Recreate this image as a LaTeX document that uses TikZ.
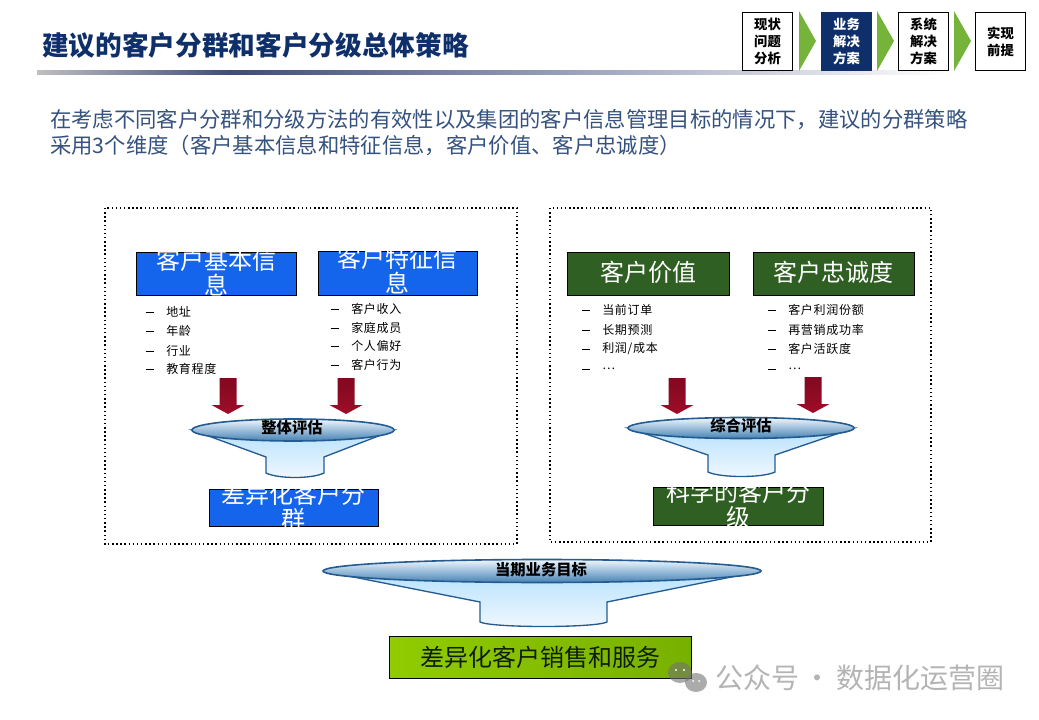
\documentclass[tikz,border=0pt]{standalone}
\usepackage{fontspec}
\setmainfont{Noto Sans CJK SC}
\usepackage[svgnames]{xcolor}
\usepackage{tikz}
\definecolor{navy}{HTML}{0F2F6B}
\definecolor{barblue}{HTML}{3F4C7A}
\definecolor{bodyblue}{HTML}{35527F}
\definecolor{segblue}{HTML}{1464EC}
\definecolor{seggreen}{HTML}{2F5F22}
\definecolor{limeleft}{HTML}{90CC00}
\definecolor{limeright}{HTML}{78B000}
\definecolor{navgreen}{HTML}{76B33A}
\definecolor{arrowred}{HTML}{A00C28}
\definecolor{funnelline}{HTML}{245C92}
\definecolor{markgray}{HTML}{B4B4B4}
\tikzset{
	navbox/.style={draw=black,line width=.8pt,fill=white,minimum width=38pt,minimum height=44pt,inner sep=0pt,align=center,font=\fontsize{10}{13}\selectfont\bfseries},
	dotbox/.style={draw=black,line width=1.1pt,dotted},
	headbox/.style={draw=black,line width=.5pt,inner sep=0pt},
	headtext/.style={text=white,inner sep=0pt,align=center,font=\fontsize{18}{18.7}\selectfont},
	itemtext/.style={anchor=west,inner sep=0pt,font=\fontsize{9}{10}\selectfont},
	funnellabel/.style={inner sep=0pt,font=\fontsize{11.5}{12}\selectfont\bfseries}
}
\begin{document}
\begin{tikzpicture}[x=.75pt,y=-.75pt]
		\useasboundingbox[fill=white] (0,0) rectangle (1039,720);
		% title and bar
		\node[anchor=west,inner sep=0pt,text=navy,font=\fontsize{20}{20}\selectfont\bfseries] (title) at (42,45) {建议的客户分群和客户分级总体策略};
		\shade[left color=gray!50,right color=barblue] (37,71) rectangle (230,75);
		\shade[left color=barblue,right color=white] (230,71) rectangle (950,75);
		% navigation
		\node[navbox] (nava) at (767.5,41.5) {现状\\问题\\分析};
		\node[navbox,fill=navy,draw=navy,text=white] (navb) at (846.5,41.5) {业务\\解决\\方案};
		\node[navbox] (navc) at (923.5,41.5) {系统\\解决\\方案};
		\node[navbox] (navd) at (1000.5,41.5) {实现\\前提};
		\foreach \x in {799,877,954}
			\fill[navgreen] (\x,11)--(\x+17,41)--(\x,71)--cycle;
		% intro text
		\node[anchor=west,inner sep=0pt,text=bodyblue,font=\fontsize{16}{19.5}\selectfont,align=left] (intro) at (50,133) {在考虑不同客户分群和分级方法的有效性以及集团的客户信息管理目标的情况下，建议的分群策略\\采用3个维度（客户基本信息和特征信息，客户价值、客户忠诚度）};
		% dotted frames
		\draw[dotbox] (105,208) rectangle (517,544);
		\draw[dotbox] (550,208) rectangle (931,542);
		% heading boxes
		\node[headbox,fill=segblue,minimum width=120pt,minimum height=32.25pt] (basic) at (216,273.5) {};
		\node[headtext] (basictext) at (216,272.5) {客户基本信\\息};
		\node[headbox,fill=segblue,minimum width=119pt,minimum height=33pt] (trait) at (397.5,273) {};
		\node[headtext] (traittext) at (397.5,270.5) {客户特征信\\息};
		\node[headbox,fill=seggreen,minimum width=121.5pt,minimum height=32.25pt] (value) at (648,273.5) {};
		\node[headtext] (valuetext) at (648,272.5) {客户价值};
		\node[headbox,fill=seggreen,minimum width=120.75pt,minimum height=32.25pt] (loyal) at (833.5,273.5) {};
		\node[headtext] (loyaltext) at (833.5,272.5) {客户忠诚度};
		% item lists
		\foreach \n/\tx/\ty/\txt in {a/166/312/地址,b/166/331/年龄,c/166/351/行业,d/166/369/教育程度,
				e/351/309/客户收入,f/351/328/家庭成员,g/351/346/个人偏好,h/351/365/客户行为,
				i/602/310/当前订单,j/602/330/长期预测,k/602/349/{利润/成本},l/602/369/…,
				m/788/310/客户利润份额,n/788/330/再营销成功率,o/788/349/客户活跃度,p/788/369/…}{
			\node[itemtext] (item\n) at (\tx,\ty) {\addfontfeature{LetterSpace=6}\txt};
			\draw (\tx-20.5,\ty) -- (\tx-12.5,\ty);
		}
		% red arrows
		\foreach \x/\y in {228/378,346/378,677/378,813/377}
			\shade[top color=arrowred!80!black,bottom color=arrowred] (\x-8.5,\y)--(\x+8.5,\y)--(\x+8.5,\y+27)--(\x+16.5,\y+27)--(\x,\y+36)--(\x-16.5,\y+27)--(\x-8.5,\y+27)--cycle;
		% funnels
		\foreach \cx/\cy/\rx/\ry/\nl/\nr/\sh/\bt in {293/430/101/11/266/324/457/478,741/428/113/10.5/708/775/455/477,542/571/219/11.5/480/607/602/627}{
			\draw[funnelline,line width=1pt,top color=LightSkyBlue!60,bottom color=AliceBlue] (\cx-\rx,\cy) -- (\nl,\sh) -- (\nl,\bt-5) .. controls (\nl+12,\bt+1) and (\nr-12,\bt+1) .. (\nr,\bt-5) -- (\nr,\sh) -- (\cx+\rx,\cy) -- cycle;
			\draw[funnelline,line width=1.2pt,top color=AliceBlue,middle color=LightBlue,bottom color=SteelBlue] (\cx,\cy) ellipse [x radius=\rx,y radius=\ry];
		}
		\node[funnellabel] (evala) at (292,428) {整体评估};
		\node[funnellabel] (evalb) at (741,426) {综合评估};
		\node[funnellabel] (evalc) at (541,570) {当期业务目标};
		% result boxes
		\node[headbox,fill=segblue,minimum width=126.75pt,minimum height=27.75pt] (segres) at (293.5,507.5) {};
		\node[headtext] (segrestext) at (293.5,507) {差异化客户分\\群};
		\node[headbox,fill=seggreen,minimum width=127.5pt,minimum height=28.5pt] (graderes) at (738,506) {};
		\node[headtext] (gradetext) at (738,505) {科学的客户分\\级};
		\node[draw=black,line width=.6pt,left color=limeleft,right color=limeright,text=black!70!seggreen,minimum width=227pt,minimum height=31pt,inner sep=0pt,font=\fontsize{18}{18}\selectfont] (sales) at (540.5,657.5) {差异化客户销售和服务};
		% watermark
		\fill[black!55,opacity=.6] (680,672.5) ellipse [x radius=12,y radius=10.5];
		\fill[black!55,opacity=.6] (696,682.5) ellipse [x radius=11,y radius=9.5];
		\fill[white] (676,670) circle (1.2) (684,670) circle (1.2) (693,681) circle (1) (699,681) circle (1);
		\node[anchor=west,inner sep=0pt,text=markgray,font=\fontsize{21}{21}\selectfont] (mark) at (715,678) {公众号\hspace{3.5pt}·\hspace{3.5pt}数据化运营圈};
	\end{tikzpicture}
\end{document}
